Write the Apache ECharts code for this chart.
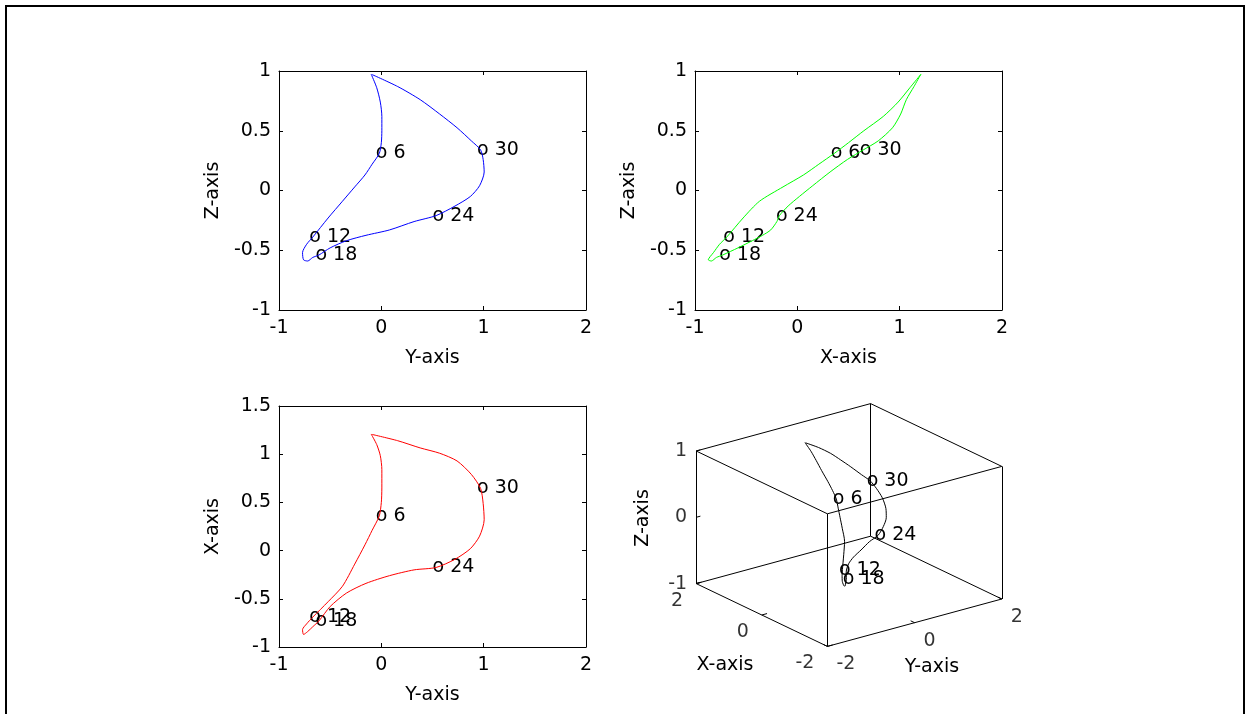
<!DOCTYPE html>
<html>
<head>
<meta charset="utf-8">
<script src="https://cdn.jsdelivr.net/npm/echarts@6/dist/echarts.min.js"></script>
<style>
  html, body { margin: 0; padding: 0; background: #fff; }
  #chart { width: 1245px; height: 714px; }
</style>
</head>
<body>
<div id="chart"></div>
<script>
// samples t = 0..36, every 6th one gets a text marker
const labelTimes = [6, 12, 18, 24, 30]
const xs = [1.21, 1.10, 0.985, 0.84, 0.65, 0.50, 0.36, 0.21, 0.06, -0.14, -0.37, -0.53, -0.69,
  -0.76, -0.82, -0.87, -0.84, -0.79, -0.73, -0.58, -0.44, -0.34, -0.26, -0.20, -0.175,
  -0.09, 0.02, 0.15, 0.32, 0.49, 0.645, 0.79, 0.93, 1.01, 1.065, 1.14, 1.205]
const ys = [-0.10, -0.045, -0.01, 0.005, 0.005, 0.0, -0.02, -0.09, -0.16, -0.26, -0.38, -0.52, -0.67,
  -0.73, -0.77, -0.76, -0.72, -0.67, -0.61, -0.50, -0.34, -0.15, 0.08, 0.32, 0.535,
  0.72, 0.87, 0.96, 1.005, 0.995, 0.97, 0.88, 0.74, 0.57, 0.38, 0.16, -0.09]
const zs = [0.975, 0.86, 0.74, 0.62, 0.50, 0.40, 0.31, 0.22, 0.13, 0.03, -0.09, -0.23, -0.39,
  -0.45, -0.52, -0.58, -0.59, -0.56, -0.54, -0.48, -0.42, -0.375, -0.33, -0.26, -0.21,
  -0.13, -0.05, 0.04, 0.155, 0.26, 0.34, 0.415, 0.525, 0.64, 0.76, 0.87, 0.97]

// 3d box limits and ticks
const boxX = [-2, 2]
const boxY = [-2, 2]
const boxZ = [-1, 1]
const ticksX3 = [-2, 0, 2]
const ticksY3 = [-2, 0, 2]
const ticksZ3 = [-1, 0, 1]

const FONT = 'DejaVu Sans, Liberation Sans, sans-serif'
const FS = 19
const INK = '#000'

// screen pixels per data unit (y up) for the 3d view
const ex = [-32.8, 15.7]
const ey = [43.6, 11.85]
const ez = [0, 66.3]
function proj(x, y, z) {
  return [x * ex[0] + y * ey[0] + z * ez[0], x * ex[1] + y * ey[1] + z * ez[1]]
}

const chart = echarts.init(document.getElementById('chart'))

const txt = { fontFamily: FONT, fontSize: FS, color: INK, textBorderWidth: 0 }

// main axis with labels + mirrored axis for the ticks on the other side
function axisBase(grid, min, max, interval) {
  return {
    type: 'value', gridIndex: grid, min: min, max: max, interval: interval,
    axisLine: { show: true, onZero: false, lineStyle: { color: '#000', width: 1 } },
    axisTick: { show: true, inside: true, length: 4, lineStyle: { color: '#000' } },
    splitLine: { show: false }
  }
}
function xPair(grid, min, max, interval, name) {
  const base = axisBase(grid, min, max, interval)
  return [
    Object.assign({}, base, {
      position: 'bottom', name: name, nameLocation: 'middle', nameGap: 39,
      nameTextStyle: txt,
      axisLabel: Object.assign({ margin: 9 }, txt)
    }),
    Object.assign({}, base, { position: 'top', axisLabel: { show: false } })
  ]
}
function yPair(grid, min, max, interval, name) {
  const base = axisBase(grid, min, max, interval)
  return [
    Object.assign({}, base, {
      position: 'left', name: name, nameLocation: 'middle', nameGap: 56,
      nameTextStyle: txt,
      axisLabel: Object.assign({ margin: 8 }, txt)
    }),
    Object.assign({}, base, { position: 'right', axisLabel: { show: false } })
  ]
}

function curveSeries(axis, pairs, color) {
  return {
    type: 'line', xAxisIndex: axis, yAxisIndex: axis, data: pairs,
    showSymbol: false, smooth: 0.25, silent: true,
    lineStyle: { color: color, width: 1 }
  }
}
function markerSeries(axis, pairs) {
  return {
    type: 'scatter', xAxisIndex: axis, yAxisIndex: axis, symbolSize: 1, silent: true,
    itemStyle: { color: 'transparent' },
    data: labelTimes.map(t => ({ value: pairs[t], name: 'o ' + t })),
    label: Object.assign({
      show: true, position: 'right', distance: 0, offset: [-4, 0], formatter: '{b}', opacity: 1
    }, txt)
  }
}

const yz = ys.map((y, i) => [y, zs[i]])
const xz = xs.map((x, i) => [x, zs[i]])
const yx = ys.map((y, i) => [y, xs[i]])
const p3 = xs.map((x, i) => proj(x, ys[i], zs[i]))

// box edges
const corners = []
boxX.forEach(x => boxY.forEach(y => boxZ.forEach(z => corners.push([x, y, z]))))
const edges = []
corners.forEach((a, i) => corners.forEach((b, j) => {
  if (j <= i) return
  let diff = 0
  for (let k = 0; k < 3; k++) if (a[k] !== b[k]) diff++
  if (diff === 1) edges.push({ coords: [proj(a[0], a[1], a[2]), proj(b[0], b[1], b[2])] })
}))
// tick marks
const tl = 0.12
ticksX3.forEach(t => edges.push({ coords: [proj(t, boxY[0], boxZ[0]), proj(t, boxY[0] + tl, boxZ[0])] }))
ticksY3.forEach(t => edges.push({ coords: [proj(boxX[0], t, boxZ[0]), proj(boxX[0] + tl, t, boxZ[0])] }))
ticksZ3.forEach(t => edges.push({ coords: [proj(boxX[1], boxY[0], t), proj(boxX[1], boxY[0] + tl * 0.8, t)] }))

function tickLabels(points, align, offset) {
  return {
    type: 'scatter', xAxisIndex: 6, yAxisIndex: 6, symbolSize: 1, silent: true,
    itemStyle: { color: 'transparent' },
    data: points,
    label: Object.assign({
      show: true, position: 'inside', align: align, verticalAlign: 'middle', offset: offset,
      formatter: '{b}'
    }, txt)
  }
}

const xAx = [].concat(
  xPair(0, -1, 2, 1, 'Y-axis'),
  xPair(1, -1, 2, 1, 'X-axis'),
  xPair(2, -1, 2, 1, 'Y-axis'),
  [{ type: 'value', gridIndex: 3, min: -200, max: 200, show: false }]
)
const yAx = [].concat(
  yPair(0, -1, 1, 0.5, 'Z-axis'),
  yPair(1, -1, 1, 0.5, 'Z-axis'),
  yPair(2, -1, 1.5, 0.5, 'X-axis'),
  [{ type: 'value', gridIndex: 3, min: -200, max: 200, show: false }]
)

const nameStyle = { fontFamily: FONT, fontSize: FS, fill: INK, align: 'center', verticalAlign: 'middle' }

chart.setOption({
  animation: false,
  backgroundColor: '#fff',
  grid: [
    { left: 279, top: 71, width: 307, height: 239, outerBoundsMode: 'none' },
    { left: 695, top: 71, width: 307, height: 239, outerBoundsMode: 'none' },
    { left: 279, top: 406, width: 307, height: 241, outerBoundsMode: 'none' },
    { left: 649, top: 325, width: 400, height: 400, outerBoundsMode: 'none' }
  ],
  xAxis: xAx,
  yAxis: yAx,
  series: [
    curveSeries(0, yz, '#0000ff'), markerSeries(0, yz),
    curveSeries(2, xz, '#00ff00'), markerSeries(2, xz),
    curveSeries(4, yx, '#ff0000'), markerSeries(4, yx),
    {
      type: 'lines', coordinateSystem: 'cartesian2d', xAxisIndex: 6, yAxisIndex: 6,
      silent: true, data: edges, lineStyle: { color: '#000', width: 1, opacity: 1 }
    },
    curveSeries(6, p3, '#000'), markerSeries(6, p3),
    tickLabels(ticksX3.map(t => ({ value: proj(t, boxY[0], boxZ[0]), name: String(t) })), 'right', [-13, 17]),
    tickLabels(ticksY3.map(t => ({ value: proj(boxX[0], t, boxZ[0]), name: String(t) })), 'left', [9, 18]),
    tickLabels(ticksZ3.map(t => ({ value: proj(boxX[1], boxY[0], t), name: String(t) })), 'right', [-9, 0])
  ],
  graphic: [
    { type: 'rect', shape: { x: 6, y: 6, width: 1238, height: 720 }, style: { fill: 'none', stroke: '#000', lineWidth: 2 }, silent: true },
    { type: 'text', x: 725, y: 665, style: Object.assign({ text: 'X-axis' }, nameStyle) },
    { type: 'text', x: 932, y: 667, style: Object.assign({ text: 'Y-axis' }, nameStyle) },
    { type: 'text', x: 643, y: 518, rotation: Math.PI / 2, style: Object.assign({ text: 'Z-axis' }, nameStyle) }
  ]
})
</script>
</body>
</html>
